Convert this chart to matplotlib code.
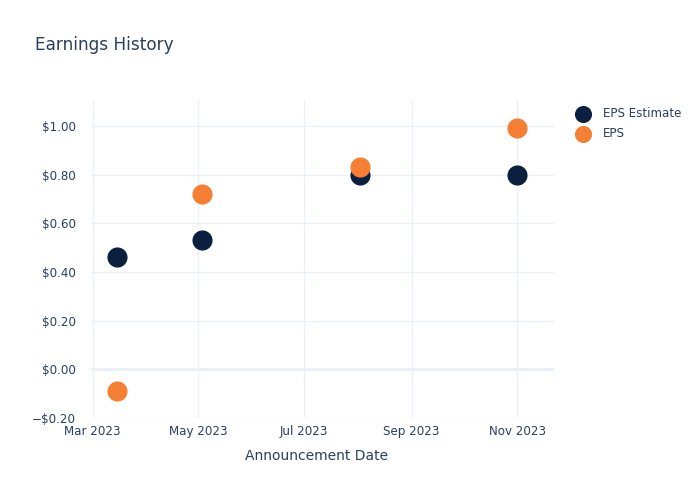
import matplotlib
matplotlib.use("Agg")
import matplotlib.pyplot as plt
import matplotlib.dates as mdates
from matplotlib.ticker import FuncFormatter, FixedLocator
import numpy as np
import datetime as dt

dates = ["2023-03-15", "2023-05-03", "2023-08-02", "2023-11-01"]
eps_estimate = [0.46, 0.53, 0.80, 0.80]
eps_actual = [-0.09, 0.72, 0.83, 0.99]
y_ticks = [-0.2, 0.0, 0.2, 0.4, 0.6, 0.8, 1.0]
x_ticks = ["2023-03-01", "2023-05-01", "2023-07-01", "2023-09-01", "2023-11-01"]
x_tick_labels = ["Mar 2023", "May 2023", "Jul 2023", "Sep 2023", "Nov 2023"]

plt.rcParams['font.family'] = ['DejaVu Sans']
TEXT = "#2a3f5f"
GRID = "#EBF0F8"
NAVY = "#0B1F3F"
ORANGE = "#F58035"

d = [dt.datetime.strptime(s, "%Y-%m-%d") for s in dates]
xt = [dt.datetime.strptime(s, "%Y-%m-%d") for s in x_ticks]

fig = plt.figure(figsize=(7, 5), dpi=100)
ax = fig.add_axes([0.13, 0.164, 0.661, 0.636])

ax.scatter(d, eps_estimate, s=210, color=NAVY, label="EPS Estimate", zorder=3, linewidths=0)
ax.scatter(d, eps_actual, s=210, color=ORANGE, label="EPS", zorder=4, linewidths=0)

ax.set_ylim(-0.2, 1.107)
ax.set_xlim(dt.datetime(2023, 2, 28), dt.datetime(2023, 11, 22))
ax.yaxis.set_major_locator(FixedLocator(y_ticks))
ax.xaxis.set_major_locator(FixedLocator(mdates.date2num(xt)))
ax.set_xticklabels(x_tick_labels)

def fmt(v, pos):
    s = "${:.2f}".format(abs(v))
    return ("\u2212" + s) if v < -1e-9 else s
ax.yaxis.set_major_formatter(FuncFormatter(fmt))

for sp in ax.spines.values():
    sp.set_visible(False)
ax.grid(True, color=GRID, linewidth=1, zorder=0)
ax.set_axisbelow(True)
ax.axhline(0, color=GRID, linewidth=2, zorder=1)
ax.tick_params(axis='both', length=0, labelsize=8.6, colors=TEXT)
ax.tick_params(axis='y', pad=11)
ax.tick_params(axis='x', pad=5)

fig.text(317 / 700, 1 - 456 / 500, "Announcement Date", fontsize=10, color=TEXT,
         ha='center', va='center')
fig.text(0.05, 0.91, "Earnings History", fontsize=12.2, color=TEXT, ha='left', va='center')

leg = fig.legend(loc='upper left', bbox_to_anchor=(0.809, 0.796), frameon=False,
                 fontsize=8.6, labelcolor=TEXT, handletextpad=0.7, borderaxespad=0,
                 labelspacing=0.6, markerscale=0.85, scatterpoints=1)

fig.savefig("out.png", dpi=100)
